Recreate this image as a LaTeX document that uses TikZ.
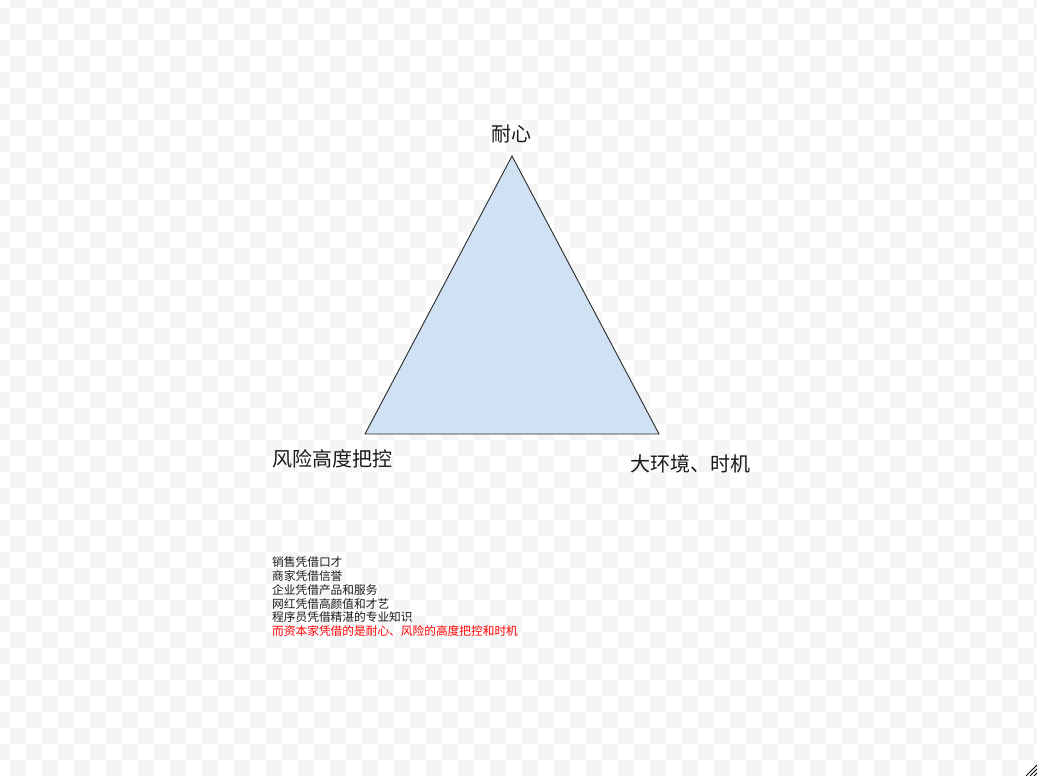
\documentclass[tikz,border=0pt]{standalone}
\usepackage{fontspec}
\newfontfamily\cjk{Noto Sans CJK SC}
\definecolor{checkgray}{HTML}{F5F5F5}
\definecolor{trifill}{HTML}{CFE1F2}
\definecolor{tristroke}{HTML}{2A2A2A}
\definecolor{txt}{HTML}{1A1A1A}
\tikzset{
  biglabel/.style={font=\cjk\fontsize{20}{24}\selectfont, text=txt, inner sep=0pt},
  smalltext/.style={font=\cjk\fontsize{11.7}{13.8}\selectfont, text=txt, inner sep=0pt, anchor=base west},
  triangle/.style={fill=trifill, draw=tristroke, line width=0.9pt, line join=miter},
}
\begin{document}
\begin{tikzpicture}[x=1pt,y=-1pt]
\useasboundingbox (0,0) rectangle (1037,776);
\fill[white] (0,0) rectangle (1037,776);
\begin{scope}
\clip (0,0) rectangle (1037,776);
\foreach \c in {0,...,66}{
  \foreach \r in {0,...,49}{
    \pgfmathtruncatemacro{\cpar}{mod(\c+\r,2)}
    \ifnum\cpar=1
      \fill[checkgray] ({-6+16*\c},{-8+16*\r}) rectangle ++(16,16);
    \fi
  }
}
\end{scope}
% triangle
\coordinate (top) at (512,156);
\coordinate (bl) at (365,434);
\coordinate (br) at (659,434);
\draw[triangle] (top) -- (bl) -- (br) -- cycle;
% labels
\node[biglabel, anchor=base] (lpat) at (511,141) {耐心};
\node[biglabel, anchor=base west] (lrisk) at (272,466) {风险高度把控};
\node[biglabel, anchor=base west] (lenv) at (630,471) {大环境、时机};
% text lines
\node[smalltext] (t1) at (272,566.6) {销售凭借口才};
\node[smalltext] (t2) at (272,580.4) {商家凭借信誉};
\node[smalltext] (t3) at (272,594.2) {企业凭借产品和服务};
\node[smalltext] (t4) at (272,608.0) {网红凭借高颜值和才艺};
\node[smalltext] (t5) at (272,621.8) {程序员凭借精湛的专业知识};
\node[smalltext, text=red] (t6) at (272,635.6) {而资本家凭借的是耐心、风险的高度把控和时机};
% resize handle
\draw[black, line width=0.8pt] (1026,776) -- (1037,765);
\draw[black, line width=0.8pt] (1030,776) -- (1037,769);
\draw[black, line width=0.8pt] (1034,776) -- (1037,773);
\end{tikzpicture}
\end{document}
